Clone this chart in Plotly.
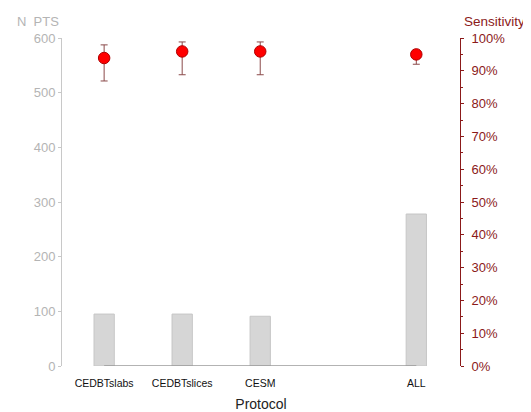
import plotly.graph_objects as go

protocols = ["CEDBTslabs", "CEDBTslices", "CESM", "ALL"]
positions = [0, 1, 2, 4]
n_pts = [95, 95, 91, 278]
sens = [93.9, 95.9, 95.9, 95.0]
sens_hi = [97.9, 98.8, 98.8, 96.3]
sens_lo = [86.9, 88.8, 88.8, 92.0]

left_ticks = [0, 100, 200, 300, 400, 500, 600]

FONT = "Liberation Sans, Arial, sans-serif"
DARKRED = "#8b1a1a"

fig = go.Figure()
fig.add_trace(go.Bar(
    x=positions, y=n_pts, width=0.26,
    marker=dict(color="#d6d6d6", line=dict(color="#c6c6c6", width=1)),
    yaxis="y", showlegend=False, hoverinfo="skip",
))
fig.add_trace(go.Scatter(
    x=positions, y=sens, mode="markers", yaxis="y2",
    marker=dict(color="#ff0000", size=11.5, line=dict(color="#b00000", width=1)),
    error_y=dict(type="data", symmetric=False,
                 array=[h - s for h, s in zip(sens_hi, sens)],
                 arrayminus=[s - l for s, l in zip(sens, sens_lo)],
                 color="#8b4a4a", thickness=1, width=3.5),
    showlegend=False,
))

fig.add_shape(type="line", xref="x", yref="y", x0=positions[0], x1=positions[-1],
              y0=0, y1=0, line=dict(color="#9a9a9a", width=1.5), layer="above")

fig.update_layout(
    width=523, height=404,
    margin=dict(l=54, r=71, t=30, b=46, autoexpand=False),
    paper_bgcolor="white", plot_bgcolor="white",
    font=dict(family=FONT),
    xaxis=dict(range=[-0.54, 4.56], tickvals=positions, ticktext=protocols,
               showgrid=False, zeroline=False, showline=False, ticks="",
               ticklabelstandoff=9, automargin=False,
               tickfont=dict(size=10.5, color="#111111"),
               title=dict(text="Protocol", font=dict(size=14, color="#222222"), standoff=22)),
    yaxis=dict(range=[0, 600], tickvals=left_ticks, showgrid=False, zeroline=False,
               showline=True, linecolor="#c8c8c8", linewidth=1, automargin=False,
               ticks="outside", ticklen=3, tickcolor="#c8c8c8",
               tickfont=dict(size=13, color="#b4b4b4")),
    yaxis2=dict(range=[0, 100], overlaying="y", side="right", anchor="x",
                tickmode="linear", tick0=0, dtick=10, ticksuffix="%",
                showgrid=False, zeroline=False, showline=True, automargin=False,
                linecolor=DARKRED, linewidth=1,
                ticks="outside", ticklen=3, tickcolor=DARKRED,
                minor=dict(dtick=5, tick0=0, ticks="outside", ticklen=2, tickcolor=DARKRED),
                tickfont=dict(size=13, color=DARKRED), ticklabelstandoff=5),
    annotations=[
        dict(text="N  PTS", xref="paper", yref="paper", x=-0.118, y=1.0, yshift=17,
             xanchor="left", yanchor="middle", showarrow=False,
             font=dict(size=13, color="#b4b4b4")),
        dict(text="Sensitivity", xref="paper", yref="paper", x=1.0, xshift=2, y=1.0, yshift=17,
             xanchor="left", yanchor="middle", showarrow=False,
             font=dict(size=13.5, color=DARKRED)),
    ],
)

fig.write_html("out.html")
